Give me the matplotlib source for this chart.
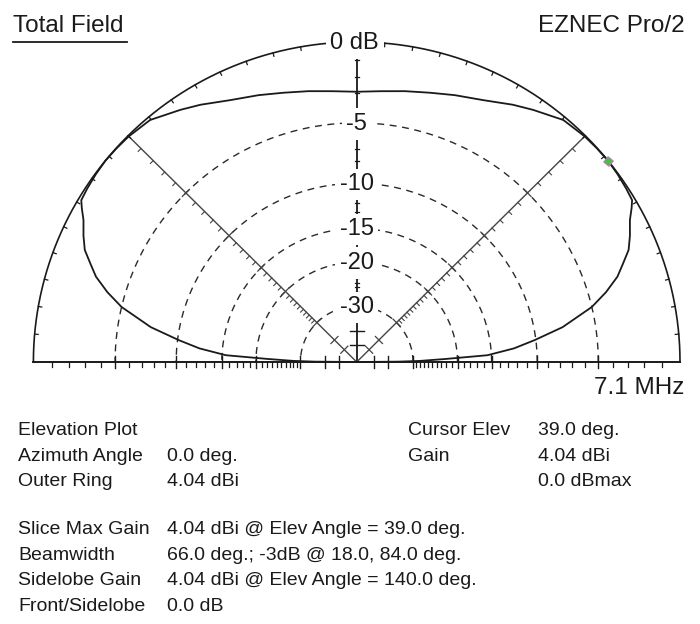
import numpy as np
import matplotlib.pyplot as plt

# elevation pattern: angle (deg) and gain relative to the outer ring (dB)
ELEV_DEG = [0, 0.5, 1, 2, 3, 5, 7.1, 9.7, 13.3, 15.8, 18.3, 20.5, 22.6, 25, 27.7,
            29.5, 30.7, 33, 36, 39, 42, 45, 49.8, 55.3, 59, 64.4, 70, 74.9, 80, 85, 90,
            95, 100, 105.1, 110, 115.6, 121, 124.7, 130.2, 135, 138, 141, 144, 147,
            149.3, 150.5, 152.3, 155, 157.4, 159.5, 161.7, 164.2, 166.7, 170.3,
            172.9, 175, 177, 178, 179, 179.5, 180]
GAIN_DB = [-99, -35, -28, -22, -15.5, -12.3, -10.1, -7.5, -5.0, -3.8, -2.8, -2.2, -1.6,
           -1.2, -0.8, -0.4, -0.16, -0.1, -0.04, 0.0, -0.02, -0.05, -0.17, -0.73, -1.1,
           -1.67, -2.05, -2.36, -2.6, -2.8, -2.9,
           -2.8, -2.6, -2.36, -2.05, -1.67, -1.1, -0.73, -0.17, -0.05, -0.02, 0.0,
           -0.04, -0.1, -0.16, -0.4, -0.8, -1.2, -1.6, -2.2, -2.8, -3.8, -5.0, -7.5,
           -10.1, -12.3, -15.5, -22, -28, -35, -99]

CURSOR_ELEV = 39.0
CURSOR_DB = 0.0

RING_DB = [-5, -10, -15, -20, -30]
RING_LABELS = ["-5", "-10", "-15", "-20", "-30"]
EXTRA_MAJOR_DB = [-40, -50]
MINOR_DB = [d for d in range(-1, -31, -1) if d not in RING_DB]
RADIAL_DEG = [45, 135]

INFO_LEFT = [("Elevation Plot", ""), ("Azimuth Angle", "0.0 deg."), ("Outer Ring", "4.04 dBi")]
INFO_RIGHT = [("Cursor Elev", "39.0 deg."), ("Gain", "4.04 dBi"), ("", "0.0 dBmax")]
INFO_BOTTOM = [("Slice Max Gain", "4.04 dBi @ Elev Angle = 39.0 deg."),
               ("Beamwidth", "66.0 deg.; -3dB @ 18.0, 84.0 deg."),
               ("Sidelobe Gain", "4.04 dBi @ Elev Angle = 140.0 deg."),
               ("Front/Sidelobe", "0.0 dB")]

# plot geometry in pixels (the screenshot is slightly stretched horizontally)
CX, CY = 356.7, 362.0
RX, RY = 323.3, 320.0
FONT = "Liberation Sans"
INK = "#1a1a1a"


def db_to_r(db):
    # ARRL log scale: 0.89 per 2 dB
    return 0.89 ** (-np.asarray(db, dtype=float) / 2.0)


def to_px(theta_deg, r):
    t = np.radians(theta_deg)
    return CX + RX * r * np.cos(t), CY - RY * r * np.sin(t)


fig = plt.figure(figsize=(7.0, 6.24), dpi=100)
ax = fig.add_axes([0, 0, 1, 1])
ax.set_xlim(0, 700)
ax.set_ylim(624, 0)
ax.axis("off")

theta = np.linspace(0, 180, 721)

# dashed dB rings
for db in RING_DB:
    x, y = to_px(theta, db_to_r(db))
    ax.plot(x, y, color="#2a2a2a", lw=1.0, ls=(0, (5, 4)), zorder=1)

# outer ring with small inward ticks every 5 deg
x, y = to_px(theta, 1.0)
ax.plot(x, y, color=INK, lw=1.2, zorder=3)
for a in range(5, 180, 5):
    if a == 90:
        continue
    t = np.radians(a)
    x0, y0 = to_px(a, 1.0)
    ax.plot([x0, x0 - 3.5 * np.cos(t)], [y0, y0 + 3.5 * np.sin(t)], color=INK, lw=0.9, zorder=3)

# baseline with dB ticks on both sides of the centre
ax.plot([CX - RX, CX + RX], [CY, CY], color=INK, lw=1.4, zorder=3)
for sgn in (1, -1):
    for db in MINOR_DB:
        xt = CX + sgn * RX * db_to_r(db)
        ax.plot([xt, xt], [CY, CY + 4.5], color=INK, lw=0.9, zorder=3)
    for db in RING_DB + EXTRA_MAJOR_DB:
        xt = CX + sgn * RX * db_to_r(db)
        ax.plot([xt, xt], [CY - 6, CY + 6], color=INK, lw=1.0, zorder=3)

# vertical axis with small ticks
ax.plot([CX, CX], [CY, CY - RY], color=INK, lw=1.3, zorder=2)
for db in MINOR_DB:
    yt = CY - RY * db_to_r(db)
    ax.plot([CX - 2, CX + 2.5], [yt, yt], color=INK, lw=0.9, zorder=2)
for db in EXTRA_MAJOR_DB:
    yt = CY - RY * db_to_r(db)
    ax.plot([CX - 7, CX + 7], [yt, yt], color=INK, lw=1.0, zorder=2)

# radial guide lines with ticks on the side facing the baseline
for a, side in zip(RADIAL_DEG, (1, -1)):
    x, y = to_px(np.array([a, a]), np.array([0.0, 1.0]))
    ax.plot(x, y, color="#444444", lw=1.0, zorder=2)
    t = np.radians(a)
    nx, ny = side * np.sin(t), side * np.cos(t)  # pixel-space normal
    for db in MINOR_DB:
        x0, y0 = to_px(a, db_to_r(db))
        ax.plot([x0, x0 + 4 * nx], [y0, y0 + 4 * ny], color="#444444", lw=0.8, zorder=2)
    for db in RING_DB + EXTRA_MAJOR_DB:
        x0, y0 = to_px(a, db_to_r(db))
        ax.plot([x0 - 5 * nx, x0 + 5 * nx], [y0 - 5 * ny, y0 + 5 * ny],
                color="#444444", lw=0.9, zorder=2)

# antenna pattern
px, py = to_px(np.array(ELEV_DEG), db_to_r(GAIN_DB))
ax.plot(px, py, color=INK, lw=1.3, zorder=4, solid_joinstyle="round")

# cursor marker
mx, my = to_px(CURSOR_ELEV, db_to_r(CURSOR_DB))
ax.plot([mx], [my], marker=(4, 0, 6), ms=7, mfc="#3cc83c", mec="#d070d0", mew=0.8, zorder=6)

# ring labels sitting on the vertical axis
lab_kw = dict(fontsize=17, family=FONT, color=INK, ha="center", va="center", zorder=5,
              bbox=dict(boxstyle="square,pad=0.2", fc="white", ec="none"))
ax.text(CX - 2, CY - RY + 1, "0 dB", **lab_kw)
for db, s in zip(RING_DB, RING_LABELS):
    ax.text(CX, CY - RY * db_to_r(db) + 1, s, **lab_kw)

# header texts
ax.text(13, 32, "Total Field", fontsize=17.5, family=FONT, color=INK, va="baseline")
ax.plot([13, 127], [42, 42], color=INK, lw=1.3)
ax.text(685, 32, "EZNEC Pro/2", fontsize=17.5, family=FONT, color=INK, ha="right", va="baseline")
ax.text(684, 394, "7.1 MHz", fontsize=17.5, family=FONT, color=INK, ha="right", va="baseline")

# info block
info_kw = dict(fontsize=14, family=FONT, color=INK, va="baseline")
for i, (k, v) in enumerate(INFO_LEFT):
    yb = 435 + i * 25.7
    ax.text(18, yb, k, **info_kw)
    ax.text(167, yb, v, **info_kw)
for i, (k, v) in enumerate(INFO_RIGHT):
    yb = 435 + i * 25.7
    ax.text(408, yb, k, **info_kw)
    ax.text(538, yb, v, **info_kw)
for i, (k, v) in enumerate(INFO_BOTTOM):
    yb = 534 + i * 25.7
    ax.text(18, yb, k, **info_kw)
    ax.text(167, yb, v, **info_kw)

fig.savefig("out.png", dpi=100, facecolor="white")
